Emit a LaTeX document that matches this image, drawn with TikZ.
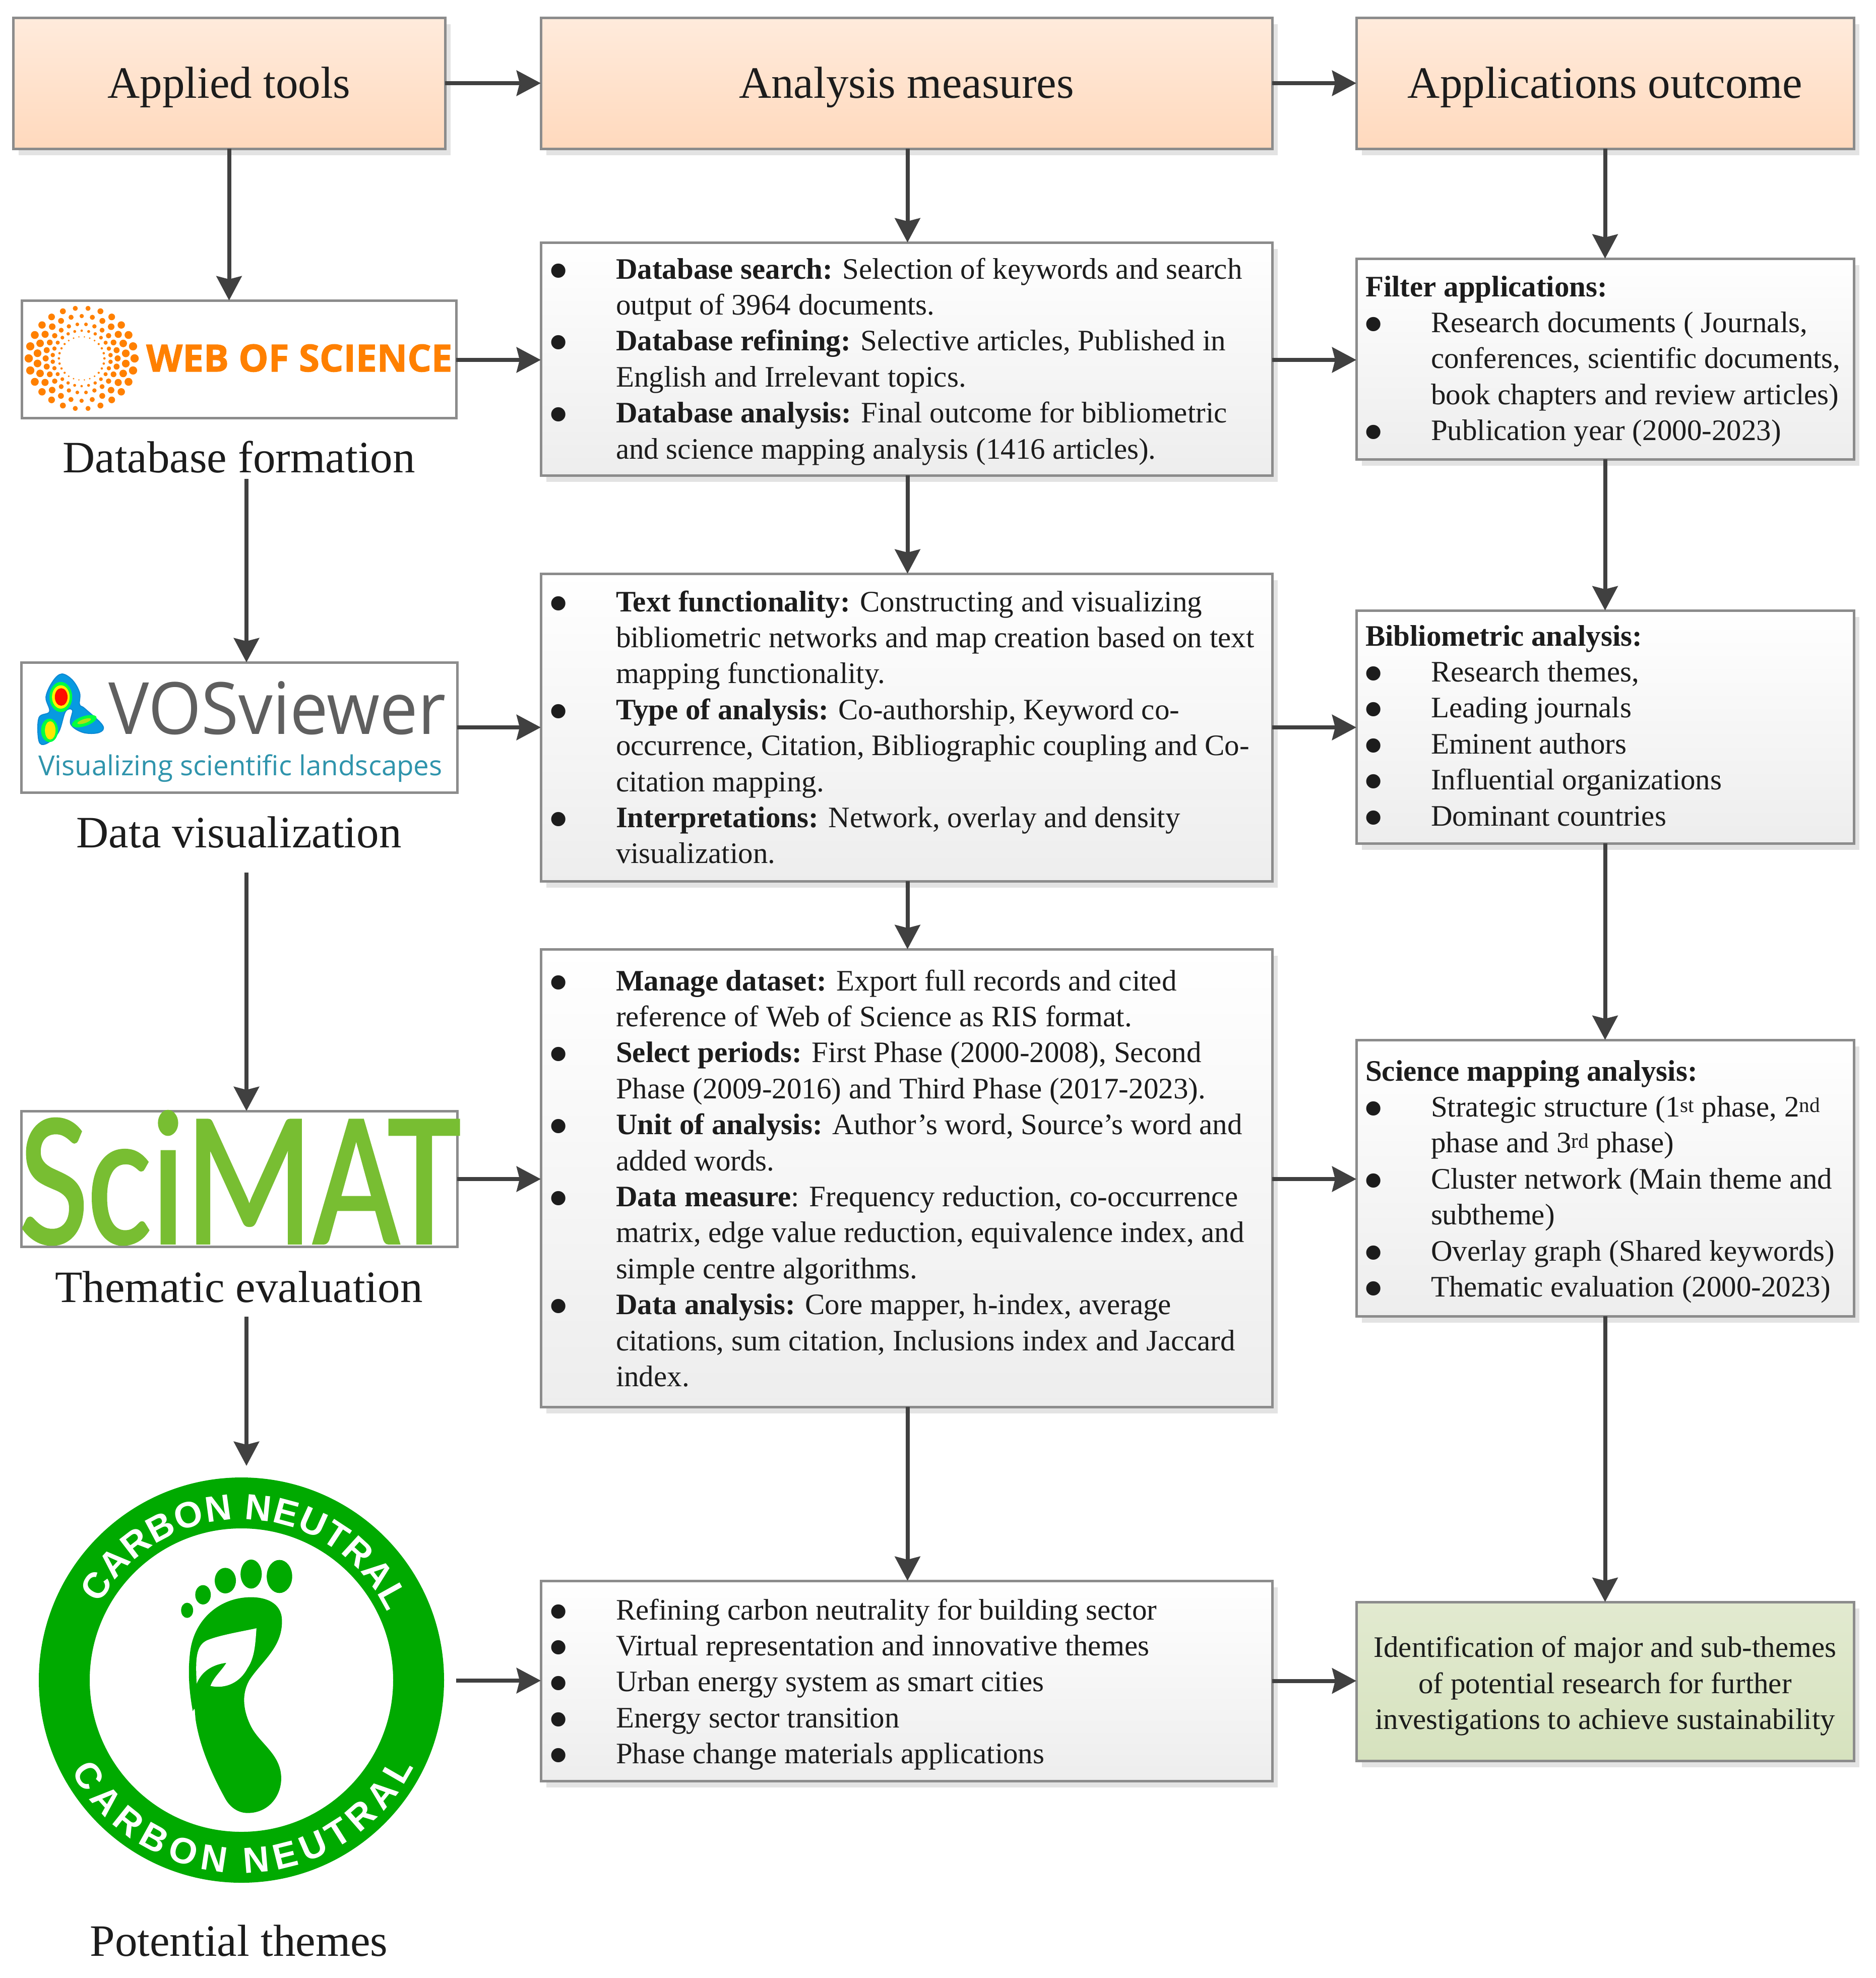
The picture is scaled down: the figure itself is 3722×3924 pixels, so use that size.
\documentclass[tikz,border=0pt]{standalone}
\usepackage{fontspec}
\setmainfont{Liberation Serif}
\newfontfamily\carbonfont{Liberation Sans}
\newfontfamily\logofont{Open Sans}
\newfontfamily\wosfont{Open Sans}[BoldFeatures={FakeBold=1.5}]
\newfontfamily\scifont{Carlito}[FakeBold=1.5]
\usetikzlibrary{arrows.meta,shadows}
\definecolor{edgegray}{HTML}{8C8C8C}
\definecolor{arrowgray}{HTML}{404040}
\definecolor{inkblack}{HTML}{1C1C1C}
\definecolor{headtop}{HTML}{FFEBDC}
\definecolor{headbot}{HTML}{FFD9BD}
\definecolor{greentop}{HTML}{E2EAD0}
\definecolor{greenbot}{HTML}{D6E2BE}
\definecolor{carbon}{HTML}{00AA00}
\definecolor{woso}{HTML}{FF8000}
\definecolor{vosgray}{HTML}{5F5F5F}
\definecolor{vosteal}{HTML}{2F94AC}
\definecolor{sciG}{HTML}{78BE32}
\newcommand{\BL}[1]{\makebox[130pt][l]{\hspace*{-5pt}\raisebox{-23pt}{\scalebox{2}{•}}}#1}
\newcommand{\CL}[1]{\hspace*{130pt}#1}
\newcommand{\FST}{\rule{0pt}{50pt}}
\tikzset{
  x=1pt,y=-1pt,
  boxbase/.style={draw=edgegray,line width=5pt,anchor=north west,inner sep=0pt,outer sep=0pt,
    drop shadow={shadow xshift=11pt,shadow yshift=-13pt,fill=black!11,opacity=1}},
  headbox/.style={boxbase,top color=headtop,bottom color=headbot,text=inkblack,
    font=\fontsize{89}{100}\selectfont,text height=60pt,text depth=2pt},
  bodybox/.style={boxbase,top color=white,bottom color=black!7},
  greenbox/.style={boxbase,top color=greentop,bottom color=greenbot,text=inkblack,align=center,
    font=\fontsize{59}{71.4}\selectfont},
  logobox/.style={draw=edgegray,line width=5pt,anchor=north west,inner sep=0pt,outer sep=0pt,fill=white},
  bodytext/.style={anchor=north west,inner sep=0pt,outer sep=0pt,align=left,text=inkblack,
    font=\fontsize{59}{71.4}\selectfont},
  captext/.style={anchor=base,inner sep=0pt,text=inkblack,font=\fontsize{89}{100}\selectfont},
  carbonchar/.style={anchor=base,inner sep=0pt,text=white,font=\carbonfont\bfseries\fontsize{72}{72}\selectfont},
  arr/.style={draw=arrowgray,line width=8pt,-{Stealth[length=48pt,width=50pt,inset=6pt]}},
}
\begin{document}
\begin{tikzpicture}
\useasboundingbox (0,0) rectangle (3722,3924);
% headers
\node[headbox,minimum width=857pt,minimum height=260pt] (appl) at (26,35) {Applied tools};
\node[headbox,minimum width=1451pt,minimum height=260pt] (ana) at (1073,35) {Analysis measures};
\node[headbox,minimum width=987pt,minimum height=260pt] (outc) at (2691,35) {Applications outcome};
% middle boxes
\node[bodybox,minimum width=1451pt,minimum height=462pt] (a1) at (1073,481) {};
\node[bodybox,minimum width=1451pt,minimum height=610pt] (a2) at (1073,1138) {};
\node[bodybox,minimum width=1451pt,minimum height=908pt] (a3) at (1073,1883) {};
\node[bodybox,minimum width=1451pt,minimum height=397pt] (a4) at (1073,3136) {};
% right boxes
\node[bodybox,minimum width=987pt,minimum height=398pt] (r1) at (2691,513) {};
\node[bodybox,minimum width=987pt,minimum height=462pt] (r2) at (2691,1211) {};
\node[bodybox,minimum width=987pt,minimum height=548pt] (r3) at (2691,2063) {};
\node[greenbox,minimum width=987pt,minimum height=315pt] (r4) at (2691,3178) {\rule{0pt}{60pt}Identification of major and sub-themes\\of potential research for further\\investigations to achieve sustainability};
% body text
\node[bodytext] (t1) at (1092,503) {\BL{\FST\textbf{Database search:} Selection of keywords and search}\\
\CL{output of 3964 documents.}\\
\BL{\textbf{Database refining:} Selective articles, Published in}\\
\CL{English and Irrelevant topics.}\\
\BL{\textbf{Database analysis:} Final outcome for bibliometric}\\
\CL{and science mapping analysis (1416 articles).}};
\node[bodytext] (t2) at (1092,1163) {\BL{\FST\textbf{Text functionality:} Constructing and visualizing}\\
\CL{bibliometric networks and map creation based on text}\\
\CL{mapping functionality.}\\
\BL{\textbf{Type of analysis:} Co-authorship, Keyword co-}\\
\CL{occurrence, Citation, Bibliographic coupling and Co-}\\
\CL{citation mapping.}\\
\BL{\textbf{Interpretations:} Network, overlay and density}\\
\CL{visualization.}};
\node[bodytext] (t3) at (1092,1915) {\BL{\FST\textbf{Manage dataset:} Export full records and cited}\\
\CL{reference of Web of Science as RIS format.}\\
\BL{\textbf{Select periods:} First Phase (2000-2008), Second}\\
\CL{Phase (2009-2016) and Third Phase (2017-2023).}\\
\BL{\textbf{Unit of analysis:} Author’s word, Source’s word and}\\
\CL{added words.}\\
\BL{\textbf{Data measure}: Frequency reduction, co-occurrence}\\
\CL{matrix, edge value reduction, equivalence index, and}\\
\CL{simple centre algorithms.}\\
\BL{\textbf{Data analysis:} Core mapper, h-index, average}\\
\CL{citations, sum citation, Inclusions index and Jaccard}\\
\CL{index.}};
\node[bodytext] (t4) at (1092,3163) {\BL{\FST Refining carbon neutrality for building sector}\\
\BL{Virtual representation and innovative themes}\\
\BL{Urban energy system as smart cities}\\
\BL{Energy sector transition}\\
\BL{Phase change materials applications}};
\node[bodytext] (t5) at (2709,538) {\FST\textbf{Filter applications:}\\
\BL{Research documents ( Journals,}\\
\CL{conferences, scientific documents,}\\
\CL{book chapters and review articles)}\\
\BL{Publication year (2000-2023)}};
\node[bodytext] (t6) at (2709,1231) {\FST\textbf{Bibliometric analysis:}\\
\BL{Research themes,}\\
\BL{Leading journals}\\
\BL{Eminent authors}\\
\BL{Influential organizations}\\
\BL{Dominant countries}};
\node[bodytext] (t7) at (2709,2094) {\FST\textbf{Science mapping analysis:}\\
\BL{Strategic structure (1\textsuperscript{st} phase, 2\textsuperscript{nd}}\\
\CL{phase and 3\textsuperscript{rd} phase)}\\
\BL{Cluster network (Main theme and}\\
\CL{subtheme)}\\
\BL{Overlay graph (Shared keywords)}\\
\BL{Thematic evaluation (2000-2023)}};
% logo boxes
\node[logobox,minimum width=862pt,minimum height=233pt] (wos) at (43,596) {};
\node[logobox,minimum width=865pt,minimum height=258pt] (vos) at (42,1314) {};
\node[logobox,minimum width=865pt,minimum height=269pt] (sci) at (42,2204) {};
% WoS logo
\foreach \R/\D/\O in {100/7.5/0,84/7/7,68/5.5/0,55/4/7,43/2.2/0}{
  \foreach \i in {1,...,26}{
    \pgfmathsetmacro{\ang}{\i*360/26+\O}
    \pgfmathsetmacro{\dotr}{\D*(0.6+0.5*abs(cos(\ang)))}
    \fill[woso] ({162+1.05*\R*cos(\ang)},{711+\R*sin(\ang)}) circle[radius=\dotr];
  }
}
\node[inner sep=0pt,anchor=base west,text=woso,font=\wosfont\bfseries\fontsize{74.5}{74.5}\selectfont] (wostext) at (290,737) {WEB OF SCIENCE};
% VOSviewer logo
\begin{scope}[shift={(0,1250)},xscale=0.7018,yscale=0.829]
  \fill[cyan!85!blue,draw=cyan!70!blue,line width=2pt] plot[smooth cycle,tension=.6] coordinates {(175,105)(205,120)(225,150)(225,178)(240,188)(290,228)(280,245)(235,245)(200,225)(205,192)(185,195)(165,245)(130,272)(110,265)(110,210)(140,195)(130,160)(150,122)};
  \fill[green!75!cyan] (172,160) ellipse[x radius=32,y radius=36];
  \fill[yellow] (172,160) ellipse[x radius=25,y radius=28];
  \fill[red!90!orange] (173,160) ellipse[x radius=18,y radius=21];
  \fill[green!75!cyan] (140,240) ellipse[x radius=24,y radius=28];
  \fill[yellow!90!orange] (142,240) ellipse[x radius=15,y radius=22];
  \fill[green!75!cyan,rotate around={15:(238,218)}] (238,218) ellipse[x radius=36,y radius=12];
  \fill[yellow!70!green,rotate around={15:(238,218)}] (238,218) ellipse[x radius=20,y radius=5];
\end{scope}
\node[inner sep=0pt,anchor=base west,text=vosgray,font=\logofont\fontsize{143}{143}\selectfont] (vostext) at (215,1456) {\scalebox{0.945}[1]{VOSviewer}};
\node[inner sep=0pt,anchor=base west,text=vosteal,font=\logofont\fontsize{54.7}{54.7}\selectfont] (vostag) at (76,1538) {Visualizing scientific landscapes};
% SciMAT logo
\node[inner sep=0pt,anchor=base west,text=sciG,font=\scifont\fontsize{380}{380}\selectfont] (scitext) at (38,2466) {\scalebox{0.78}[1]{SciMAT}};
% captions
\node[captext] (cap1) at (474,937) {Database formation};
\node[captext] (cap2) at (474,1681) {Data visualization};
\node[captext] (cap3) at (474,2583) {Thematic evaluation};
\node[captext] (cap4) at (474,3880) {Potential themes};
% carbon neutral badge
\draw[carbon,line width=101pt] (479,3333) circle[radius=351.5];
\foreach \c/\a [count=\n] in {C/147,A/137.3,R/127.6,B/117.9,O/107.8,N/97.7,N/84.3,E/75,U/65.6,T/56.7,R/47.7,A/38,L/29}{
  \node[carbonchar,rotate=\a-90] (top\n) at ({479+319*cos(\a)},{3333-319*sin(\a)}) {\c};
}
\foreach \c/\a [count=\n] in {C/212,A/221.7,R/231.4,B/241.1,O/251.2,N/261.3,N/274.7,E/284,U/293.4,T/302.3,R/311.3,A/321,L/330}{
  \node[carbonchar,rotate=\a+90] (bot\n) at ({479+383*cos(\a)},{3333-383*sin(\a)}) {\c};
}
\begin{scope}[shift={(0,2850)},xscale=0.7018,yscale=0.685]
  \fill[carbon] (790,405) ellipse[x radius=36,y radius=48];
  \fill[carbon] (710,398) ellipse[x radius=30,y radius=42];
  \fill[carbon] (637,417) ellipse[x radius=30,y radius=37];
  \fill[carbon] (574,458) ellipse[x radius=22,y radius=28];
  \fill[carbon] (529,503) ellipse[x radius=17,y radius=22];
  \fill[carbon] (700,1090) .. controls (760,1090) and (795,1040) .. (795,990)
    .. controls (795,920) and (735,890) .. (710,840)
    .. controls (690,800) and (680,750) .. (705,705)
    .. controls (740,650) and (800,610) .. (797,530)
    .. controls (795,480) and (750,465) .. (710,465)
    .. controls (620,465) and (550,530) .. (538,620)
    .. controls (530,680) and (535,740) .. (545,795)
    .. controls (552,780) and (550,790) .. (553,820)
    .. controls (565,900) and (600,980) .. (635,1045)
    .. controls (650,1075) and (675,1090) .. (700,1090) -- cycle;
  \fill[white] (725,555) .. controls (680,565) and (620,575) .. (585,590)
    .. controls (555,605) and (552,640) .. (556,715)
    .. controls (570,680) and (600,660) .. (640,655)
    .. controls (625,680) and (605,695) .. (595,722)
    .. controls (640,732) and (680,710) .. (700,670)
    .. controls (720,640) and (722,600) .. (725,555) -- cycle;
\end{scope}
% connectors
\draw[arr] (appl.east) -- (ana.west);
\draw[arr] (ana.east) -- (outc.west);
\draw[arr] (appl.south) -- (appl.south |- wos.north);
\draw[arr] ([xshift=2pt]ana.south) -- ([xshift=2pt]a1.north);
\draw[arr] (outc.south) -- (r1.north);
\draw[arr] ([yshift=-2pt]wos.east |- a1.west) -- ([yshift=-2pt]a1.west);
\draw[arr] ([yshift=-2pt]a1.east) -- ([yshift=-2pt]a1.east -| r1.west);
\draw[arr] ([xshift=2pt]a1.south) -- ([xshift=2pt]a2.north);
\draw[arr] (r1.south) -- (r2.north);
\draw[arr] (vos.east |- a2.west) -- (a2.west);
\draw[arr] (a2.east) -- (a2.east -| r2.west);
\draw[arr] ([xshift=2pt]a2.south) -- ([xshift=2pt]a3.north);
\draw[arr] (r2.south) -- (r3.north);
\draw[arr] ([yshift=-2pt]sci.east |- a3.west) -- ([yshift=-2pt]a3.west);
\draw[arr] ([yshift=-2pt]a3.east) -- ([yshift=-2pt]a3.east -| r3.west);
\draw[arr] ([xshift=2pt]a3.south) -- ([xshift=2pt]a4.north);
\draw[arr] (r3.south) -- (r4.north);
\draw[arr] (a4.east) -- (a4.east -| r4.west);
\coordinate (c1) at (489,950);
\coordinate (c2) at (489,1731);
\coordinate (c3) at (489,2612);
\coordinate (c4) at (489,2908);
\coordinate (c5) at (905,3334);
\draw[arr] (c1) -- (c1 |- vos.north);
\draw[arr] (c2) -- (c2 |- sci.north);
\draw[arr] (c3) -- (c4);
\draw[arr] (c5) -- (c5 -| a4.west);
\end{tikzpicture}
\end{document}
